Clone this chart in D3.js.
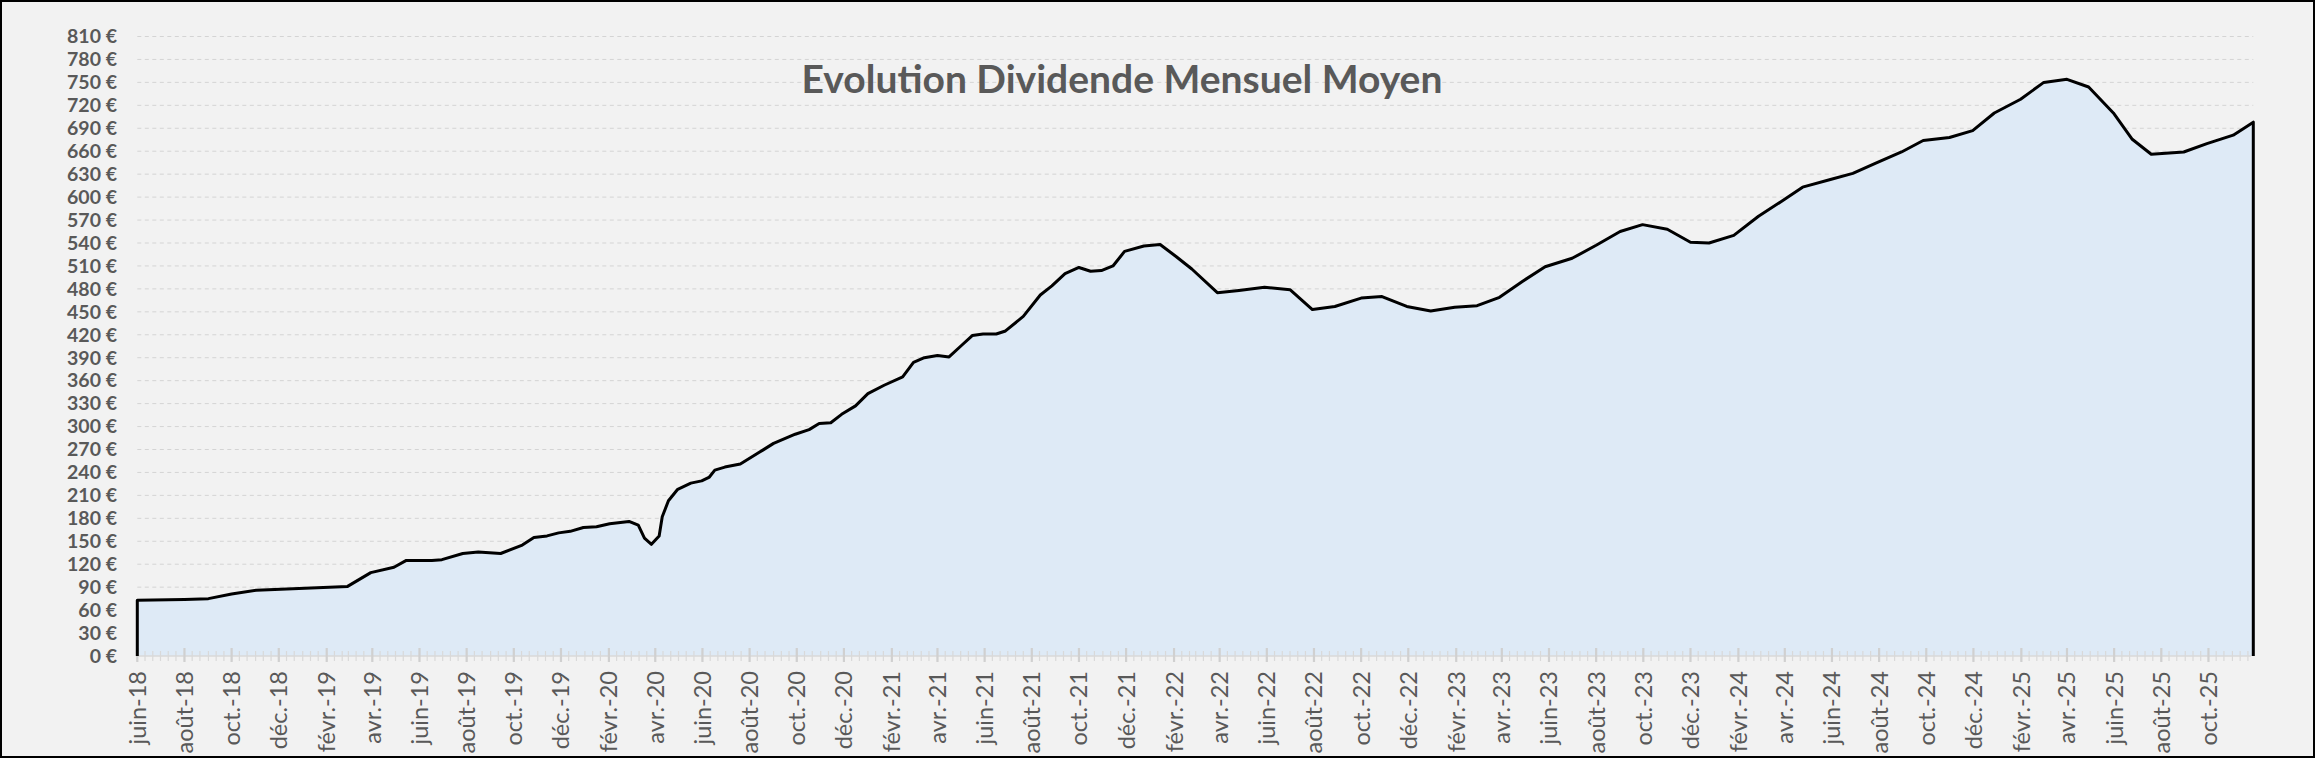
<!DOCTYPE html>
<html><head><meta charset="utf-8">
<script src="https://cdn.jsdelivr.net/npm/d3@7/dist/d3.min.js"></script>
<style>html,body{margin:0;padding:0;background:#fff;overflow:hidden}</style>
</head><body><svg id="c" width="2315" height="759"></svg>
<script>
// ---- data ----
const dates = ["2018-06-01","2018-08-01","2018-09-01","2018-10-01","2018-11-02","2019-02-28","2019-03-30","2019-04-29","2019-05-15","2019-06-17","2019-06-30","2019-07-27","2019-08-16","2019-09-14","2019-10-12","2019-10-27","2019-11-13","2019-11-28","2019-12-13","2019-12-30","2020-01-16","2020-02-02","2020-02-27","2020-03-10","2020-03-18","2020-03-27","2020-04-06","2020-04-10","2020-04-18","2020-04-30","2020-05-17","2020-05-31","2020-06-10","2020-06-17","2020-06-30","2020-07-20","2020-08-13","2020-09-01","2020-09-29","2020-10-17","2020-10-30","2020-11-14","2020-11-28","2020-12-16","2021-01-01","2021-01-22","2021-02-15","2021-03-01","2021-03-15","2021-04-01","2021-04-16","2021-05-02","2021-05-16","2021-05-30","2021-06-16","2021-06-28","2021-07-21","2021-08-12","2021-08-27","2021-09-13","2021-10-01","2021-10-16","2021-10-30","2021-11-14","2021-11-29","2021-12-24","2022-01-14","2022-02-04","2022-02-24","2022-03-29","2022-04-26","2022-05-29","2022-07-01","2022-07-30","2022-08-28","2022-10-01","2022-10-28","2022-11-29","2022-12-30","2023-01-30","2023-02-28","2023-03-29","2023-04-28","2023-05-27","2023-07-01","2023-08-01","2023-09-01","2023-09-30","2023-11-01","2023-12-01","2023-12-25","2024-01-26","2024-02-27","2024-03-27","2024-04-24","2024-05-30","2024-06-28","2024-07-27","2024-08-30","2024-09-27","2024-10-31","2024-11-30","2024-12-28","2025-01-31","2025-03-02","2025-04-01","2025-04-29","2025-05-31","2025-06-24","2025-07-19","2025-08-30","2025-09-29","2025-11-02","2025-11-28"];
const values = [73,74,75,81,86,91,109,116,125,125,126,134,136,134,145,155,157,161,163,168,169,173,176,171,154,146,157,182,203,218,226,229,234,243,247,251,266,278,290,296,304,305,316,327,343,354,365,384,390,393,391,406,419,421,421,425,444,472,484,500,508,503,504,510,529,536,538,522,506,475,478,482,479,453,457,468,470,457,451,456,458,469,490,509,520,537,555,564,558,541,540,550,575,594,613,623,631,644,659,674,678,687,710,728,750,754,744,710,676,656,659,670,681,698];
const yTickValues = [0,30,60,90,120,150,180,210,240,270,300,330,360,390,420,450,480,510,540,570,600,630,660,690,720,750,780,810];
const frMonths = ["janv.","févr.","mars","avr.","mai","juin","juil.","août","sept.","oct.","nov.","déc."];
const title = "Evolution Dividende Mensuel Moyen";

// ---- layout ----
const W = 2315, H = 759;
const parse = d3.utcParse("%Y-%m-%d");
const pts = dates.map((d, i) => ({d: parse(d), v: values[i]}));
const svg = d3.select("#c");
const FONT = "Lato, 'Open Sans', sans-serif";
const GREY = "#595959";

svg.append("rect").attr("x",0).attr("y",0).attr("width",W).attr("height",H).attr("fill","#ffffff");
svg.append("rect").attr("x",1).attr("y",1).attr("width",W-2).attr("height",756).attr("fill","#f2f2f2")
  .attr("stroke","#000").attr("stroke-width",2);

const x = d3.scaleUtc().domain([pts[0].d, pts[pts.length-1].d]).range([137.3, 2253.3]);
const y = d3.scaleLinear().domain([0, 810]).range([656, 36.5]);

// gridlines
svg.append("g").selectAll("line").data(yTickValues.filter(v => v > 0)).join("line")
  .attr("x1", 137.3).attr("x2", 2253.3)
  .attr("y1", d => y(d)).attr("y2", d => y(d))
  .attr("stroke", "#d4d4d4").attr("stroke-width", 1).attr("stroke-dasharray", "4,3.5");

// y labels
svg.append("g").selectAll("text").data(yTickValues).join("text")
  .attr("x", 117).attr("y", d => y(d)).attr("dy", "0.35em")
  .attr("text-anchor", "end").attr("font-family", FONT).attr("font-weight", "bold")
  .attr("font-size", 19.5).attr("fill", GREY)
  .text(d => d + " €");

// area
const area = d3.area().x(p => x(p.d)).y0(y(0)).y1(p => y(p.v));
svg.append("path").datum(pts).attr("d", area).attr("fill", "#deeaf6");

// x axis line and ticks
const [d0, d1] = x.domain();
svg.append("line").attr("x1", 137.3).attr("x2", 2251).attr("y1", 656).attr("y2", 656)
  .attr("stroke", "#d9d9d9").attr("stroke-width", 1.5);
const minorDays = [];
d3.utcMonth.range(d3.utcMonth.floor(d0), d1).forEach(m => {
  [1, 11, 21].forEach(dd => {
    const t = new Date(Date.UTC(m.getUTCFullYear(), m.getUTCMonth(), dd));
    if (t >= d0 && t <= d1) minorDays.push(t);
  });
});
svg.append("g").selectAll("line").data(minorDays).join("line")
  .attr("x1", d => x(d)).attr("x2", d => x(d)).attr("y1", 651).attr("y2", 661)
  .attr("stroke", "#d9d9d9").attr("stroke-width", 1.2);
const majors = d3.utcMonth.range(d0, d1, 2);
svg.append("g").selectAll("line").data(majors).join("line")
  .attr("x1", d => x(d)).attr("x2", d => x(d)).attr("y1", 648).attr("y2", 662)
  .attr("stroke", "#d0d0d0").attr("stroke-width", 2.2);

// x labels
svg.append("g").selectAll("text").data(majors).join("text")
  .attr("transform", d => `translate(${x(d)},671) rotate(-90)`)
  .attr("dy", "0.36em").attr("text-anchor", "end")
  .attr("font-family", FONT).attr("font-size", 23.5).attr("fill", GREY)
  .text(d => frMonths[d.getUTCMonth()] + "-" + String(d.getUTCFullYear()).slice(2));

// line with vertical ends
const linePts = [{d: pts[0].d, v: 0}, ...pts, {d: pts[pts.length-1].d, v: 0}];
const line = d3.line().x(p => x(p.d)).y(p => y(p.v));
svg.append("path").datum(linePts).attr("d", line).attr("fill", "none")
  .attr("stroke", "#000").attr("stroke-width", 3).attr("stroke-linejoin", "round");

// title
svg.append("text").attr("x", 1122).attr("y", 93).attr("text-anchor", "middle")
  .attr("font-family", FONT).attr("font-weight", "bold").attr("font-size", 39)
  .attr("fill", GREY).text(title);
</script>
</body></html>
